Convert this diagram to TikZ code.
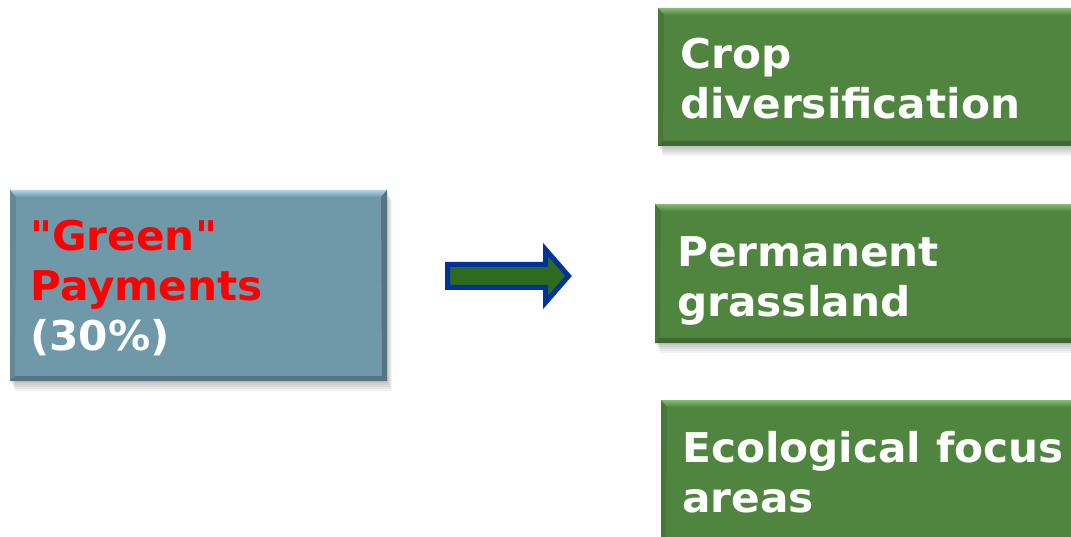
\documentclass[tikz,border=0pt]{standalone}
\usepackage{fontspec}
\setmainfont{DejaVu Sans}[FakeStretch=1.03, Ligatures=TeXOff]
\usetikzlibrary{calc}

\definecolor{boxblue}{RGB}{111,153,169}
\definecolor{boxbluelight}{RGB}{172,214,230}
\definecolor{boxbluedark}{RGB}{78,108,120}
\definecolor{boxgreen}{RGB}{80,133,64}
\definecolor{boxgreenlight}{RGB}{132,188,112}
\definecolor{boxgreendark}{RGB}{58,98,46}
\definecolor{arrowfill}{RGB}{47,107,31}
\definecolor{arrowline}{RGB}{0,51,153}

\tikzset{
    box/.style={rectangle, inner sep=0pt, outer sep=0pt},
    lbl/.style={font=\bfseries\fontsize{41}{50}\selectfont, text=white,
        align=left, inner sep=0pt, anchor=north west},
}

% bevelled box: node name, colour stem
\newcommand{\bevelbox}[2]{
    \foreach \s in {2,4,...,10}
        \fill[black, opacity=0.05] ($(#1.north west)+(\s/2,\s)$) rectangle ($(#1.south east)+(\s/2,\s)$);
    \fill[#2] (#1.north west) rectangle (#1.south east);
    \shade[top color=#2light, bottom color=#2] (#1.north west) -- (#1.north east)
        -- ($(#1.north east)+(-6,7)$) -- ($(#1.north west)+(6,7)$) -- cycle;
    \fill[#2dark, opacity=0.8] (#1.south west) -- (#1.south east)
        -- ($(#1.south east)+(-5,-5)$) -- ($(#1.south west)+(5,-5)$) -- cycle;
    \fill[#2dark, opacity=0.35] (#1.north west) -- ($(#1.north west)+(6,7)$)
        -- ($(#1.south west)+(5,-5)$) -- (#1.south west) -- cycle;
    \fill[#2dark, opacity=0.8] (#1.north east) -- ($(#1.north east)+(-6,7)$)
        -- ($(#1.south east)+(-5,-5)$) -- (#1.south east) -- cycle;
}

\begin{document}
\begin{tikzpicture}[x=1pt, y=-1pt]
    \useasboundingbox (0,0) rectangle (1071,537);
    \clip (0,0) rectangle (1071,537);

    % boxes
    \node[box, minimum width=377pt, minimum height=191pt] (green) at (198.5,285.5) {};
    \node[box, minimum width=422pt, minimum height=138pt] (crop) at (869,77) {};
    \node[box, minimum width=425pt, minimum height=139pt] (grass) at (867.5,273.5) {};
    \node[box, minimum width=419pt, minimum height=145pt] (focus) at (870.5,472.5) {};
    \bevelbox{green}{boxblue}
    \bevelbox{crop}{boxgreen}
    \bevelbox{grass}{boxgreen}
    \bevelbox{focus}{boxgreen}

    % labels
    \node[lbl] (greentxt) at (30,220) {\textcolor{red}{"Green"}\\\textcolor{red}{Payments}\\(30\%)};
    \node[lbl] (croptxt) at (680,38) {Crop\\diversification};
    \node[lbl] (grasstxt) at (677,236) {Permanent\\grassland};
    \node[lbl] (focustxt) at (682,431) {Ecological focus\\areas};

    % arrow
    \draw[line width=5pt, draw=arrowline, fill=arrowfill, miter limit=10]
        (447.5,264.5) -- (545.5,264.5) -- (545.5,249.5) -- (568.5,276)
        -- (545.5,302.5) -- (545.5,287.5) -- (447.5,287.5) -- cycle;
\end{tikzpicture}
\end{document}
